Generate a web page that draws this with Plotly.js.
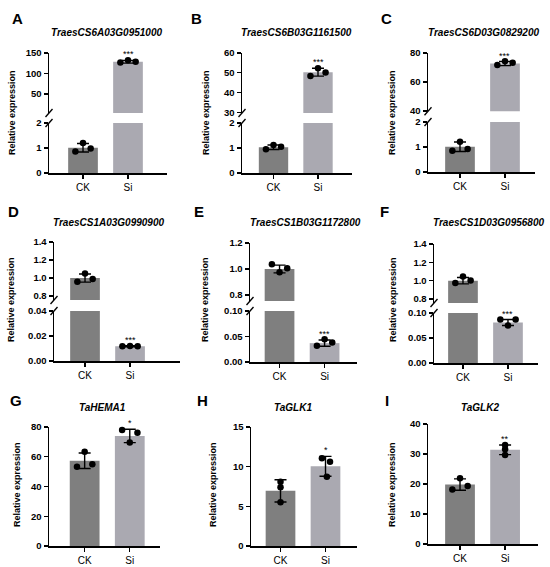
<!DOCTYPE html>
<html><head><meta charset="utf-8">
<script src="https://cdn.plot.ly/plotly-3.0.1.min.js"></script>
<style>html,body{margin:0;padding:0;background:#fff}#chart{width:550px;height:567px}</style>
</head><body><div id="chart"></div>
<script>
// ---------- DATA ----------
const categories = ['CK', 'Si'];
const panelLetters = ['A','B','C','D','E','F','G','H','I'];
const geneNames = ['TraesCS6A03G0951000','TraesCS6B03G1161500','TraesCS6D03G0829200',
                   'TraesCS1A03G0990900','TraesCS1B03G1172800','TraesCS1D03G0956800',
                   'TaHEMA1','TaGLK1','TaGLK2'];
const significance = ['***','***','***','***','***','***','*','*','**'];

const meansA = [1.01, 128.5]; const sdA = [0.17, 3.2];
const pointsA_CK = [0.86, 1.20, 0.98]; const pointsA_Si = [127.0, 132.5, 128.5];
const meansB = [1.03, 50.3]; const sdB = [0.09, 2.0];
const pointsB_CK = [0.95, 1.12, 1.05]; const pointsB_Si = [48.4, 52.3, 50.1];
const meansC = [1.01, 72.7]; const sdC = [0.19, 1.4];
const pointsC_CK = [0.85, 1.21, 0.92]; const pointsC_Si = [71.7, 74.3, 73.2];
const meansD = [1.0, 0.0118]; const sdD = [0.045, 0.0005];
const pointsD_CK = [0.96, 1.05, 0.99]; const pointsD_Si = [0.0118, 0.0121, 0.0119];
const meansE = [1.0, 0.037]; const sdE = [0.03, 0.006];
const pointsE_CK = [1.036, 0.975, 1.005]; const pointsE_Si = [0.032, 0.0445, 0.038];
const meansF = [1.0, 0.081]; const sdF = [0.035, 0.006];
const pointsF_CK = [0.975, 1.047, 1.003]; const pointsF_Si = [0.087, 0.075, 0.087];
const meansG = [57.3, 74.0]; const sdG = [5.2, 4.5];
const pointsG_CK = [53.3, 63.4, 54.9]; const pointsG_Si = [78.0, 69.5, 76.2];
const meansH = [6.95, 10.05]; const sdH = [1.4, 1.25];
const pointsH_CK = [5.5, 8.1, 7.4]; const pointsH_Si = [11.06, 8.74, 10.63];
const meansI = [19.8, 31.4]; const sdI = [1.9, 1.6];
const pointsI_CK = [18.2, 21.9, 19.3]; const pointsI_Si = [29.7, 33.0, 31.6];

// y tick values per segment (lower segment first)
const ticksA = [[0,1,2],[50,100,150]];
const ticksB = [[0,1,2],[30,40,50,60]];
const ticksC = [[0,1,2],[40,60,80]];
const ticksD = [[0,0.02,0.04],[0.8,1.0,1.2,1.4]];
const ticksE = [[0,0.05,0.10],[0.8,1.0,1.2]];
const ticksF = [[0,0.05,0.10],[0.8,1.0,1.2,1.4]];
const ticksG = [[0,20,40,60,80]];
const ticksH = [[0,5,10,15]];
const ticksI = [[0,10,20,30,40]];

// ---------- GEOMETRY / STYLE ----------
const W = 550, H = 567;
const FONT = 'Liberation Sans, Arial, sans-serif';
const barColors = ['#7f7f7f', '#aaa9b1'];
const J = [-0.17, 0, 0.17];
const panels = [
 {m:meansA, s:sdA, p:[pointsA_CK,pointsA_Si], t:ticksA, jit:[J,J], x:[49,167], xr:[-0.756,1.867],
  segs:[{d:[123,173], r:[0,2], f:'d'},{d:[53,113], r:[3.6,150], f:'d'}], yt:[12,113], tt:[106,33], lt:[17,18]},
 {m:meansB, s:sdB, p:[pointsB_CK,pointsB_Si], t:ticksB, jit:[J,J], x:[242,352], xr:[-0.708,1.764],
  segs:[{d:[123,173], r:[0,2], f:'d'},{d:[53,113], r:[29.6,60], f:'d'}], yt:[206,113], tt:[296,33], lt:[196,18]},
 {m:meansC, s:sdC, p:[pointsC_CK,pointsC_Si], t:ticksC, jit:[J,J], x:[428,535], xr:[-0.711,1.667],
  segs:[{d:[122,172], r:[0,2], f:'d'},{d:[53,111.3], r:[39.8,80], f:'d'}], yt:[392,113], tt:[483,33], lt:[386,18]},
 {m:meansD, s:sdD, p:[pointsD_CK,pointsD_Si], t:ticksD, jit:[J,J], x:[54,180], xr:[-0.689,2.11],
  segs:[{d:[311,361], r:[0,0.04], f:'.2f'},{d:[242,300], r:[0.756,1.4], f:'.1f'}], yt:[11,300], tt:[108,222], lt:[13,211]},
 {m:meansE, s:sdE, p:[pointsE_CK,pointsE_Si], t:ticksE, jit:[J,J], x:[250,357], xr:[-0.656,1.72],
  segs:[{d:[311,362], r:[0,0.1], f:'.2f'},{d:[243,301], r:[0.754,1.2], f:'.1f'}], yt:[205,300], tt:[305,222], lt:[199,211]},
 {m:meansF, s:sdF, p:[pointsF_CK,pointsF_Si], t:ticksF, jit:[J,J], x:[434,538], xr:[-0.644,1.667],
  segs:[{d:[313,363], r:[0,0.1], f:'.2f'},{d:[244,303], r:[0.757,1.4], f:'.1f'}], yt:[393,300], tt:[488,222], lt:[384,211]},
 {m:meansG, s:sdG, p:[pointsG_CK,pointsG_Si], t:ticksG, jit:[J,J], x:[49,160], xr:[-0.79,1.67],
  segs:[{d:[427,546], r:[0,80], f:'d'}], yt:[17,485], tt:[102,407], lt:[16,400]},
 {m:meansH, s:sdH, p:[pointsH_CK,pointsH_Si], t:ticksH, jit:[[0,0,0],[-0.08,0.03,0.1]], x:[251,357], xr:[-0.656,1.70],
  segs:[{d:[427,546], r:[0,15], f:'d'}], yt:[213,485], tt:[293,407], lt:[202,400]},
 {m:meansI, s:sdI, p:[pointsI_CK,pointsI_Si], t:ticksI, jit:[J,[0,0,0]], x:[428,538], xr:[-0.71,1.73],
  segs:[{d:[424,544], r:[0,40], f:'d'}], yt:[392,485], tt:[480,407], lt:[387,400]}
];

const traces = [];
const annotations = [];
const shapes = [];
const layout = {
  width: W, height: H, margin: {l:0, r:0, t:0, b:0},
  paper_bgcolor: '#fff', plot_bgcolor: 'rgba(0,0,0,0)', showlegend: false,
  font: {family: FONT, color: '#000'}
};

let yCount = 0;
panels.forEach((pn, i) => {
  const xn = i + 1;
  const xName = 'x' + (xn > 1 ? xn : '');
  const segNames = pn.segs.map(() => { yCount++; return 'y' + (yCount > 1 ? yCount : ''); });
  layout['xaxis' + (xn > 1 ? xn : '')] = {
    domain: [pn.x[0] / W, pn.x[1] / W], range: pn.xr, anchor: segNames[0],
    tickvals: [0, 1], ticktext: categories, showline: true, linecolor: '#000', linewidth: 1.5,
    ticks: 'outside', ticklen: 4, tickwidth: 1.3, tickcolor: '#000', showgrid: false, zeroline: false,
    tickfont: {family: FONT, size: 10, color: '#000'}, fixedrange: true
  };
  pn.segs.forEach((sg, j) => {
    const yName = segNames[j];
    const yn = yName.slice(1);
    layout['yaxis' + yn] = {
      domain: [1 - sg.d[1] / H, 1 - sg.d[0] / H], range: sg.r, anchor: xName,
      tickvals: pn.t[j], tickformat: sg.f, showline: true, linecolor: '#000', linewidth: 1.5,
      ticks: 'outside', ticklen: 4, tickwidth: 1.3, tickcolor: '#000', showgrid: false, zeroline: false,
      tickfont: {family: FONT, size: 9.5, color: '#000', weight: 'bold'}, fixedrange: true
    };
    traces.push({type: 'bar', x: [0, 1], y: pn.m, width: 0.66, xaxis: xName, yaxis: yName,
      marker: {color: barColors, line: {width: 0}}, hoverinfo: 'skip'});
  });
  const segOf = v => {
    for (let j = pn.segs.length - 1; j >= 0; j--) {
      const r = pn.segs[j].r; if (v >= r[0] && v <= r[1] * 1.05) return j;
    }
    return 0;
  };
  // error bars
  [0, 1].forEach(c => {
    const j = segOf(pn.m[c]);
    traces.push({type: 'scatter', mode: 'markers', x: [c], y: [pn.m[c]], xaxis: xName, yaxis: segNames[j],
      marker: {size: 1, opacity: 0}, hoverinfo: 'skip', cliponaxis: false,
      error_y: {type: 'data', array: [pn.s[c]], visible: true, color: '#000', thickness: 1.4, width: 6}});
  });
  // points
  [0, 1].forEach(c => {
    const groups = pn.segs.map(() => ({x: [], y: []}));
    pn.p[c].forEach((v, k) => { const j = segOf(v); groups[j].x.push(c + pn.jit[c][k]); groups[j].y.push(v); });
    groups.forEach((g, j) => {
      if (!g.x.length) return;
      traces.push({type: 'scatter', mode: 'markers', x: g.x, y: g.y, xaxis: xName, yaxis: segNames[j],
        marker: {size: 6.5, color: '#000'}, hoverinfo: 'skip', cliponaxis: false});
    });
  });
  // significance stars
  const js = segOf(pn.m[1]);
  annotations.push({xref: xName, yref: segNames[js], x: 1, y: pn.m[1] + pn.s[1], xanchor: 'center', yanchor: 'bottom',
    text: significance[i], showarrow: false, font: {family: FONT, size: 9, color: '#000'}, yshift: -1});
  // axis break marks
  if (pn.segs.length > 1) {
    [[segNames[1], 0], [segNames[0], 1]].forEach(([yn, anc]) => {
      shapes.push({type: 'line', xref: xName + ' domain', yref: yn + ' domain', xsizemode: 'pixel', ysizemode: 'pixel',
        xanchor: 0, yanchor: anc, x0: -3.5, x1: 3.5, y0: -4, y1: 4, line: {color: '#000', width: 1.3}});
    });
  }
  // texts
  annotations.push({xref: 'paper', yref: 'paper', x: pn.yt[0] / W, y: 1 - pn.yt[1] / H, textangle: -90,
    xanchor: 'center', yanchor: 'middle',
    text: '<b>Relative expression</b>', showarrow: false, font: {family: FONT, size: 9, color: '#000'}});
  annotations.push({xref: 'paper', yref: 'paper', x: pn.tt[0] / W, y: 1 - pn.tt[1] / H,
    xanchor: 'center', yanchor: 'middle',
    text: '<b><i>' + geneNames[i] + '</i></b>', showarrow: false, font: {family: FONT, size: 10, color: '#000'}});
  annotations.push({xref: 'paper', yref: 'paper', x: pn.lt[0] / W, y: 1 - pn.lt[1] / H,
    xanchor: 'center', yanchor: 'middle',
    text: '<b>' + panelLetters[i] + '</b>', showarrow: false, font: {family: FONT, size: 15, color: '#000'}});
});
layout.annotations = annotations;
layout.shapes = shapes;
Plotly.newPlot('chart', traces, layout, {staticPlot: true, displayModeBar: false});
</script></body></html>
